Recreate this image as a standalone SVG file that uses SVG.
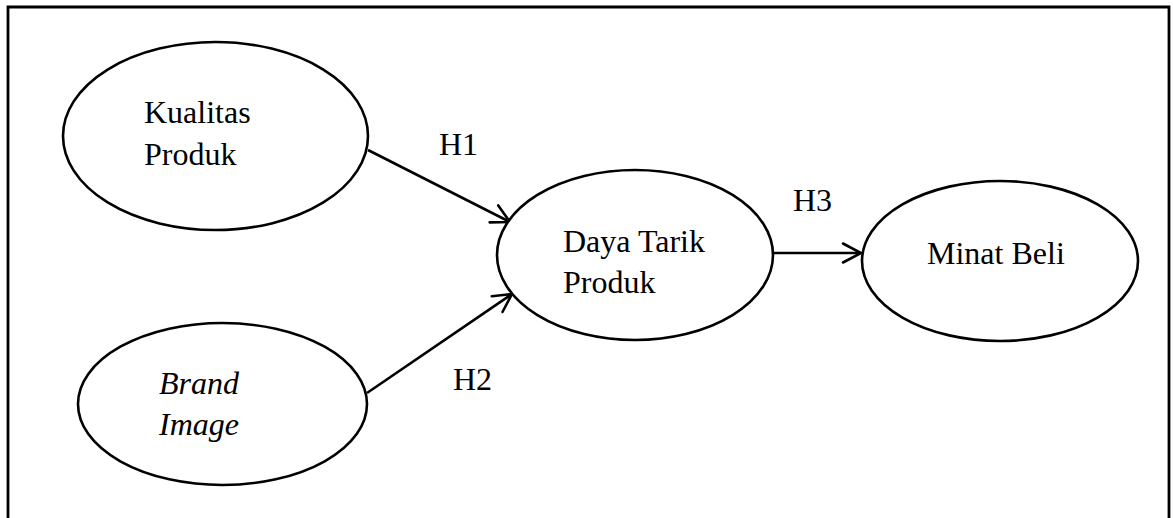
<svg xmlns="http://www.w3.org/2000/svg" width="1173" height="518" viewBox="0 0 1173 518">
  <style>
    .node { fill: #ffffff; stroke: #000000; stroke-width: 2.6; }
    .label { font-family: "Liberation Serif", "Times New Roman", serif; font-size: 32px; fill: #000000; }
    .italic { font-style: italic; }
    .edge { fill: none; stroke: #000000; stroke-width: 2.6; marker-end: url(#openArrow); }
  </style>
  <defs>
    <marker id="openArrow" markerUnits="userSpaceOnUse" viewBox="-20 -11 22 22" markerWidth="22" markerHeight="22" refX="0" refY="0" orient="auto" overflow="visible">
      <path d="M-18,-9.5 L0,0 L-18,9.5" fill="none" stroke="#000000" stroke-width="2.6" stroke-linecap="round" stroke-linejoin="miter"/>
    </marker>
  </defs>

  <rect width="1173" height="518" fill="#ffffff"/>

  <!-- outer frame (open at the bottom) -->
  <path d="M8,530 V7 H1169 V530" fill="none" stroke="#000000" stroke-width="2.8"/>

  <!-- connectors -->
  <g id="connectors">
    <line class="edge" x1="368" y1="150" x2="510" y2="222"/>
    <line class="edge" x1="367" y1="393" x2="512" y2="294"/>
    <line class="edge" x1="773" y1="253" x2="861" y2="253"/>
    <text class="label" x="439" y="155">H1</text>
    <text class="label" x="453" y="390">H2</text>
    <text class="label" x="793" y="211">H3</text>
  </g>

  <g id="kualitas-produk">
    <ellipse class="node" cx="215.5" cy="136" rx="152.5" ry="94"/>
    <text class="label" x="144" y="123">Kualitas</text>
    <text class="label" x="144" y="165">Produk</text>
  </g>

  <g id="brand-image">
    <ellipse class="node" cx="222.5" cy="404" rx="144.5" ry="81"/>
    <text class="label italic" x="159" y="394">Brand</text>
    <text class="label italic" x="159" y="435">Image</text>
  </g>

  <g id="daya-tarik-produk">
    <ellipse class="node" cx="635" cy="255" rx="138" ry="85"/>
    <text class="label" x="563" y="252">Daya Tarik</text>
    <text class="label" x="563" y="293">Produk</text>
  </g>

  <g id="minat-beli">
    <ellipse class="node" cx="1000" cy="261" rx="138" ry="80"/>
    <text class="label" x="927" y="264">Minat Beli</text>
  </g>
</svg>
